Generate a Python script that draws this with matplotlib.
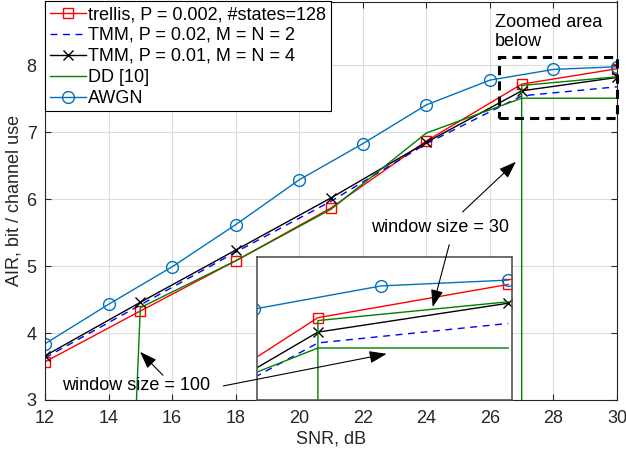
import matplotlib
matplotlib.use("Agg")
import matplotlib.pyplot as plt
from matplotlib.patches import Rectangle

plt.rcParams['font.family'] = ['Liberation Sans', 'DejaVu Sans']
plt.rcParams['font.size'] = 13

# ---- data ----
snr_awgn = [12, 14, 16, 18, 20, 22, 24, 26, 28, 30]
air_awgn = [3.84, 4.43, 4.99, 5.62, 6.29, 6.83, 7.41, 7.78, 7.94, 7.98]

snr_sim = [12, 15, 18, 21, 24, 27, 30]
air_trellis = [3.57, 4.33, 5.08, 5.87, 6.87, 7.72, 7.95]
air_tmm2 = [3.63, 4.42, 5.21, 5.97, 6.83, 7.545, 7.68]
air_tmm4 = [3.66, 4.46, 5.24, 6.02, 6.85, 7.62, 7.82]

snr_dd100 = [14, 15, 18, 21, 24, 27, 30]
air_dd100 = [-7.0, 4.38, 5.08, 5.85, 6.99, 7.51, 7.51]

snr_dd30 = [27, 27, 30]
air_dd30 = [0.0, 7.70, 7.83]

labels = ['trellis, P = 0.002, #states=128', 'TMM, P = 0.02, M = N = 2',
          'TMM, P = 0.01, M = N = 4', 'DD [10]', 'AWGN']
xticks = [12, 14, 16, 18, 20, 22, 24, 26, 28, 30]
yticks = [3, 4, 5, 6, 7, 8]

c_red = '#ff0000'
c_blue = '#0000ff'
c_black = '#000000'
c_green = '#008000'
c_awgn = '#0072bd'
axc = '#262626'

W, H = 626, 455
fig = plt.figure(figsize=(W / 100, H / 100), dpi=100)
ax = fig.add_axes([45 / W, 1 - 400 / H, 572 / W, 398.5 / H])


def draw_series(a, lw=1.0):
    hs = []
    hs.append(a.plot(snr_sim, air_trellis, color=c_red, lw=lw, marker='s', ms=6.5,
                     mfc='none', mew=1.0)[0])
    hs.append(a.plot(snr_sim, air_tmm2, color=c_blue, lw=lw, ls=(0, (5, 4)))[0])
    hs.append(a.plot(snr_sim, air_tmm4, color=c_black, lw=lw, marker='x', ms=7.5,
                     mew=1.0)[0])
    hs.append(a.plot(snr_dd100, air_dd100, color=c_green, lw=lw)[0])
    a.plot(snr_dd30, air_dd30, color=c_green, lw=lw)
    hs.append(a.plot(snr_awgn, air_awgn, color=c_awgn, lw=lw, marker='o', ms=8.5,
                     mfc='none', mew=1.0)[0])
    return hs


handles = draw_series(ax)
ax.set_xlim(12, 30)
ax.set_ylim(3, 8.955)
ax.set_xticks(xticks)
ax.set_yticks(yticks)
ax.grid(True, color='#dcdcdc', lw=0.8)
ax.set_axisbelow(True)
ax.tick_params(direction='in', colors=axc, labelsize=13, length=4,
               top=True, right=True)
ax.tick_params(axis='x', pad=7)
ax.tick_params(axis='y', pad=6)
for s in ax.spines.values():
    s.set_color(axc)
    s.set_linewidth(0.8)
ax.set_xlabel('SNR, dB', color=axc, fontsize=13, labelpad=3)
ax.set_ylabel('AIR, bit / channel use', color=axc, fontsize=13, labelpad=3)

leg = ax.legend(handles, labels, loc='upper left', borderaxespad=0,
                bbox_to_anchor=(0, 1.0), fancybox=False, framealpha=1,
                edgecolor='#000000', handlelength=2.0, handletextpad=0.15,
                labelspacing=0.22, borderpad=0.25, fontsize=13)
leg.get_frame().set_linewidth(0.8)

# zoomed area rectangle
ax.add_patch(Rectangle((26.29, 7.22), 30.0 - 26.29, 8.12 - 7.22, fill=False,
                       ec='black', lw=2.2, ls=(0, (3, 2)), zorder=5, clip_on=False))
ax.text(26.16, 8.50, 'Zoomed area\nbelow', ha='left', va='center', fontsize=13,
        color='black', linespacing=1.2)

# inset
axin = fig.add_axes([257 / W, 1 - 400 / H, 255 / W, 143 / H])
draw_series(axin)
axin.set_xlim(26.04, 30.06)
axin.set_ylim(7.15, 8.14)
axin.set_xticks([])
axin.set_yticks([])
for s in axin.spines.values():
    s.set_color('#555555')
    s.set_linewidth(1.2)

# annotations (drawn on top of inset)
ap = dict(arrowstyle='-|>,head_length=0.7,head_width=0.25', color='black', lw=0.8,
          shrinkA=0, shrinkB=0, mutation_scale=15)
ax.text(22.25, 5.58, 'window size = 30', ha='left', va='center', fontsize=13)
ax.text(12.53, 3.21, 'window size = 100', ha='left', va='center', fontsize=13)
arrows = [((25.14, 5.81), (26.82, 6.56)),
          ((24.72, 5.32), (24.20, 4.39)),
          ((15.71, 3.37), (14.99, 3.72)),
          ((17.61, 3.21), (22.75, 3.69))]
for tail, head in arrows:
    axin.annotate('', xy=head, xycoords=ax.transData, xytext=tail,
                  textcoords=ax.transData, arrowprops=ap, annotation_clip=False)

fig.savefig('out.png', dpi=100)
